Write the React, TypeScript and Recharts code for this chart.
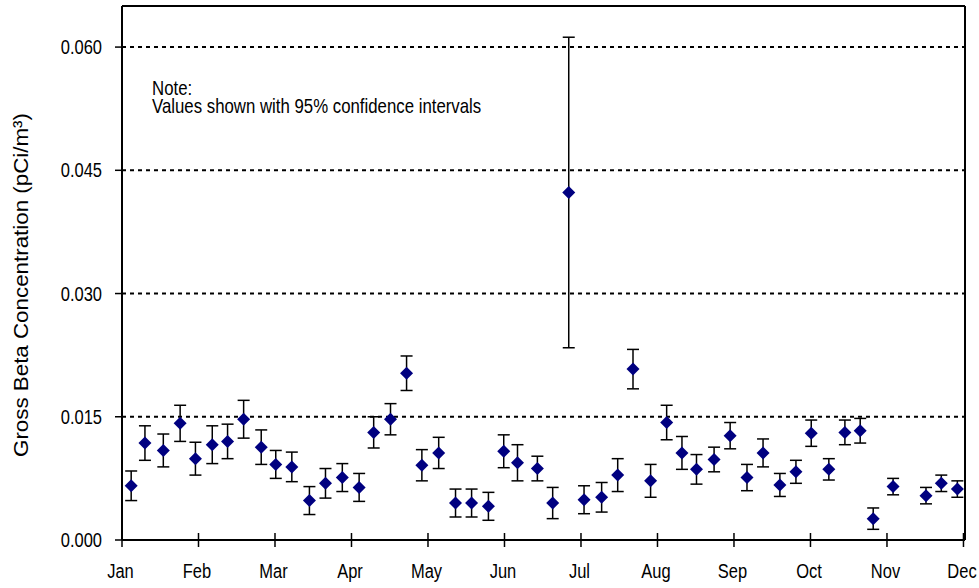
import {
  CartesianGrid,
  Customized,
  ErrorBar,
  ReferenceLine,
  Scatter,
  ScatterChart,
  XAxis,
  YAxis,
} from "recharts";

const monthLabels = ["Jan", "Feb", "Mar", "Apr", "May", "Jun", "Jul", "Aug", "Sep", "Oct", "Nov", "Dec"];
const monthTicks = [0, 1, 2, 3, 4, 5, 6, 7, 8, 9, 10, 11];
const betaTicks = [0, 0.015, 0.03, 0.045, 0.06];

// sample date, as months since Jan 1
const sampleMonth = [
  0.12, 0.3, 0.54, 0.76, 0.96, 1.18, 1.38, 1.59, 1.82, 2.01, 2.22, 2.45, 2.66,
  2.88, 3.1, 3.29, 3.51, 3.72, 3.92, 4.14, 4.36, 4.57, 4.79, 4.99, 5.17, 5.43,
  5.63, 5.84, 6.04, 6.27, 6.48, 6.68, 6.91, 7.12, 7.32, 7.51, 7.74, 7.95, 8.17,
  8.38, 8.6, 8.81, 9.01, 9.24, 9.45, 9.65, 9.82, 10.08, 10.51, 10.71, 10.92,
];

// gross beta, pCi/m3
const grossBeta = [
  0.0066, 0.0118, 0.0109, 0.0142, 0.0099, 0.0116, 0.012, 0.0147, 0.0113, 0.0092,
  0.0089, 0.0048, 0.0069, 0.0076, 0.0064, 0.0131, 0.0147, 0.0203, 0.0091, 0.0106,
  0.0045, 0.0045, 0.0041, 0.0108, 0.0094, 0.0087, 0.0045, 0.0423, 0.0049, 0.0052,
  0.0079, 0.0208, 0.0072, 0.0143, 0.0106, 0.0086, 0.0098, 0.0127, 0.0076, 0.0106,
  0.0067, 0.0083, 0.013, 0.0086, 0.0131, 0.0133, 0.0026, 0.0065, 0.0054, 0.0069,
  0.0062,
];

// 95% confidence interval half-width
const ci95 = [
  0.0018, 0.0021, 0.002, 0.0022, 0.002, 0.0023, 0.0021, 0.0023, 0.0021, 0.0017,
  0.0018, 0.0017, 0.0018, 0.0017, 0.0017, 0.0019, 0.0019, 0.0021, 0.0019, 0.0019,
  0.0017, 0.0017, 0.0017, 0.002, 0.0022, 0.0015, 0.0019, 0.0189, 0.0017, 0.0018,
  0.002, 0.0024, 0.002, 0.0021, 0.002, 0.0018, 0.0015, 0.0016, 0.0016, 0.0017,
  0.0014, 0.0014, 0.0016, 0.0013, 0.0015, 0.0015, 0.0013, 0.001, 0.001, 0.001,
  0.001,
];

const rows = sampleMonth.map((m, i) => ({ month: m, beta: grossBeta[i], ci: ci95[i] }));

const FONT = "'Liberation Sans', Arial, sans-serif";
const X_MAX = 11.02;
const Y_MAX = 0.065;

function Diamond(props: any) {
  const { cx, cy } = props;
  const r = 6.5;
  return (
    <path
      d={`M${cx},${cy - r} L${cx + r},${cy} L${cx},${cy + r} L${cx - r},${cy} Z`}
      fill="#000080"
    />
  );
}

function MonthTick(props: any) {
  const { x, y, payload } = props;
  return (
    <g>
      <line x1={x} x2={x} y1={y - 7} y2={y + 7} stroke="#000" strokeWidth={1.5} />
      <text
        transform={`translate(${x - 1.5},${y + 38}) scale(1,1.2)`}
        textAnchor="middle"
        fontFamily={FONT}
        fontSize={16.5}
        fill="#000"
      >
        {monthLabels[payload.value]}
      </text>
    </g>
  );
}

function BetaTick(props: any) {
  const { x, y, payload } = props;
  return (
    <text
      transform={`translate(${x},${y + 7}) scale(1,1.2)`}
      textAnchor="end"
      fontFamily={FONT}
      fontSize={16.5}
      fill="#000"
    >
      {payload.value.toFixed(3)}
    </text>
  );
}

function Notes() {
  return (
    <g fontFamily={FONT} fill="#000">
      <text transform="translate(152,94.5) scale(1,1.2)" fontSize={16.8}>
        <tspan x={0} y={0}>Note:</tspan>
        <tspan x={0} dy={15.2}>Values shown with 95% confidence intervals</tspan>
      </text>
      <text
        transform="translate(28,285) rotate(-90)"
        textAnchor="middle"
        fontSize={20}
        textLength={344}
        lengthAdjust="spacingAndGlyphs"
      >
        Gross Beta Concentration (pCi/m³)
      </text>
    </g>
  );
}

export default function App() {
  return (
    <div style={{ position: "absolute", left: 0, top: 0, background: "#fff" }}>
      <ScatterChart
        width={979}
        height={588}
        margin={{ top: 6, right: 14, bottom: 0, left: 0 }}
      >
        <CartesianGrid
          horizontal
          vertical={false}
          stroke="#000"
          strokeWidth={2}
          strokeDasharray="4 4"
        />
        <XAxis
          type="number"
          dataKey="month"
          domain={[0, X_MAX]}
          ticks={monthTicks}
          interval={0}
          height={48}
          tickSize={0}
          tickMargin={0}
          tickLine={false}
          tick={<MonthTick />}
          axisLine={{ stroke: "#000", strokeWidth: 2 }}
          allowDataOverflow
        />
        <YAxis
          type="number"
          dataKey="beta"
          domain={[0, Y_MAX]}
          ticks={betaTicks}
          interval={0}
          width={122}
          tickSize={7}
          tickMargin={13}
          tickLine={{ stroke: "#000", strokeWidth: 1.5 }}
          tick={<BetaTick />}
          axisLine={{ stroke: "#000", strokeWidth: 2 }}
          allowDataOverflow
        />
        <ReferenceLine y={Y_MAX} stroke="#000" strokeWidth={2} />
        <ReferenceLine x={X_MAX} stroke="#000" strokeWidth={2} />
        <Scatter data={rows} shape={<Diamond />} isAnimationActive={false}>
          <ErrorBar
            dataKey="ci"
            direction="y"
            width={6}
            stroke="#000"
            strokeWidth={1.5}
            isAnimationActive={false}
          />
        </Scatter>
        <Customized component={<Notes />} />
      </ScatterChart>
    </div>
  );
}
